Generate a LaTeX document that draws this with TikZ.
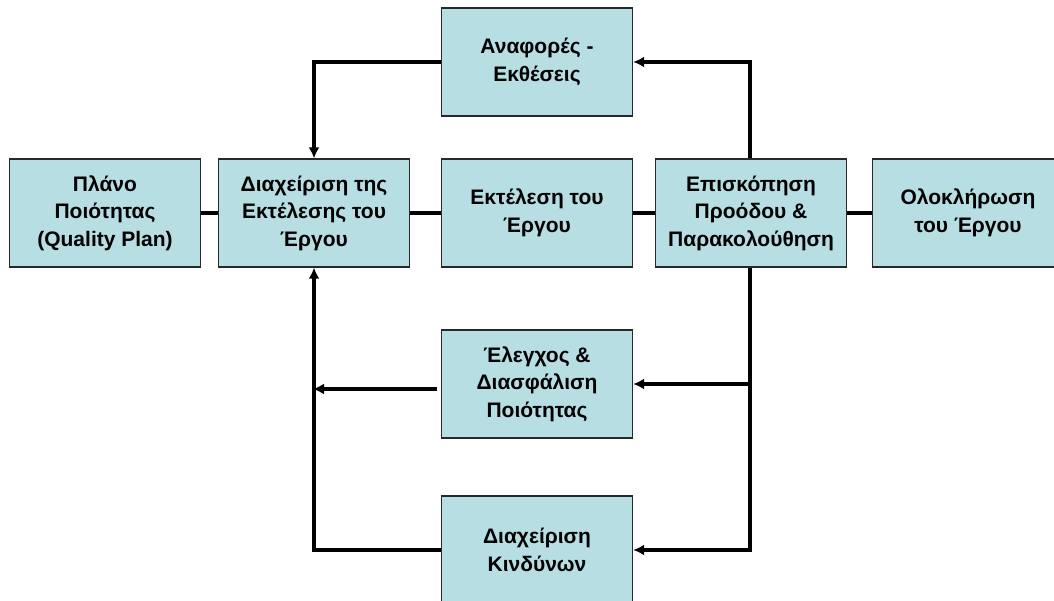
\documentclass[tikz,border=0pt]{standalone}
\usepackage{fontspec}
\setmainfont{Liberation Sans}
\usetikzlibrary{arrows.meta}
\definecolor{boxfill}{RGB}{183,222,226}
\definecolor{boxline}{RGB}{40,40,40}
\begin{document}
\begin{tikzpicture}[x=1pt,y=-1pt,
  stepbox/.style={draw=boxline,line width=1.3pt,fill=boxfill,minimum width=191pt,minimum height=108pt,
    align=center,inner sep=0pt,font=\fontsize{21}{27.5}\selectfont\bfseries},
  link/.style={line width=4.2pt},
  flow/.style={line width=4.2pt,-{Latex[length=11pt,width=11pt]}}]
\useasboundingbox (0,0) rectangle (1054,601);
\begin{scope}
\clip (0,0) rectangle (1054,601);
\node[stepbox] (plan)  at (105,213) {Πλάνο\\Ποιότητας\\(Quality Plan)};
\node[stepbox] (mgmt)  at (314,213) {Διαχείριση της\\Εκτέλεσης του\\Έργου};
\node[stepbox] (rep)   at (537,62)  {Αναφορές -\\Εκθέσεις};
\node[stepbox] (exec)  at (537,213) {Εκτέλεση του\\Έργου};
\node[stepbox] (rev)   at (751,213) {Επισκόπηση\\Προόδου \&\\Παρακολούθηση};
\node[stepbox] (close) at (968,213) {Ολοκλήρωση\\του Έργου};
\node[stepbox] (qa)    at (537,384) {Έλεγχος \&\\Διασφάλιση\\Ποιότητας};
\node[stepbox] (risk)  at (537,550) {Διαχείριση\\Κινδύνων};
\end{scope}
% main chain
\draw[link] (plan.east) -- (mgmt.west);
\draw[link] (mgmt.east) -- (exec.west);
\draw[link] (exec.east) -- (rev.west);
\draw[link] (rev.east) -- (close.west);
% reporting loop
\coordinate (rtop) at (750,62);
\coordinate (ltop) at (314,62);
\draw[flow] (rev.north -| rtop) -- (rtop) -- (rep.east);
\draw[flow] (rep.west) -- (ltop) -- (mgmt.north);
% review branches
\coordinate (rbot) at (750,550);
\coordinate (rqa) at (750,384);
\draw[flow] (rev.south -| rtop) -- (rbot) -- (risk.east);
\draw[flow] (rqa) -- (qa.east);
% feedback to management
\coordinate (lqa) at (313,389);
\coordinate (lbot) at (314,550);
\draw[flow] ([xshift=-4pt,yshift=-5pt]qa.west) -- (lqa);
\draw[flow] (risk.west) -- (lbot) -- (mgmt.south);
\end{tikzpicture}
\end{document}
